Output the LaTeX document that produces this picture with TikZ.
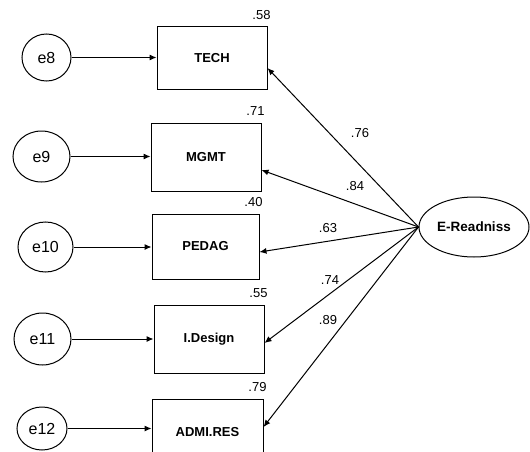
\documentclass[tikz,border=0pt]{standalone}
\usepackage{fontspec}
\setmainfont{Liberation Sans}
\usetikzlibrary{calc,arrows.meta,shapes.geometric}
\begin{document}
\begin{tikzpicture}[x=1pt,y=-1pt,
  obs/.style={draw,line width=1pt,inner sep=0pt,font=\fontsize{13}{13}\selectfont\bfseries},
  err/.style={draw,ellipse,line width=1pt,inner sep=0pt,font=\fontsize{16}{16}\selectfont},
  lat/.style={draw,ellipse,line width=1pt,inner sep=0pt,minimum width=110pt,minimum height=60pt,font=\fontsize{13.5}{13.5}\selectfont\bfseries},
  num/.style={inner sep=0pt,font=\fontsize{13}{13}\selectfont},
  arr/.style={line width=1pt,-{Latex[length=7pt,width=6pt]}}]
\useasboundingbox (0,0) rectangle (530,452);
\clip (0,0) rectangle (530,452);
% observed boxes
\node[obs,minimum width=110pt,minimum height=62pt] (tech) at (212,58) {TECH};
\node[obs,minimum width=110pt,minimum height=68pt] (mgmt) at (206,157) {MGMT};
\node[obs,minimum width=107pt,minimum height=65pt] (pedag) at (205.5,246.5) {PEDAG};
\node[obs,minimum width=110pt,minimum height=68pt] (ides) at (209,339) {I.Design};
\node[obs,minimum width=111pt,minimum height=66pt] (admi) at (207.5,432) {ADMI.RES};
% errors
\node[err,minimum width=49pt,minimum height=47pt] (e8) at (46.5,57.5) {e8};
\node[err,minimum width=57pt,minimum height=51pt] (e9) at (41.5,156.5) {e9};
\node[err,minimum width=55pt,minimum height=50pt] (e10) at (45.5,247) {e10};
\node[err,minimum width=57pt,minimum height=52pt] (e11) at (42.5,339) {e11};
\node[err,minimum width=50pt,minimum height=43pt] (e12) at (42,428.5) {e12};
% latent
\node[lat] (er) at (474,227) {E-Readniss};
% error arrows
\draw[arr] (e8.east) -- (e8.east -| tech.west);
\draw[arr] (e9.east) -- (e9.east -| mgmt.west);
\draw[arr] (e10.east) -- (e10.east -| pedag.west);
\draw[arr] (e11.east) -- (e11.east -| ides.west);
\draw[arr] (e12.east) -- (e12.east -| admi.west);
% loadings
\draw[arr] (er.west) -- ($(tech.east)+(0,10)$);
\draw[arr] (er.west) -- ($(mgmt.east)+(0,13)$);
\draw[arr] (er.west) -- ($(pedag.east)+(0,5.5)$);
\draw[arr] (er.west) -- ($(ides.east)+(0,4)$);
\draw[arr] (er.west) -- ($(admi.east)+(0,-5)$);
% R2 labels
\node[num] (r8) at ($(tech.north east)+(-6,-11)$) {.58};
\node[num] (r9) at ($(mgmt.north east)+(-6,-11)$) {.71};
\node[num] (r10) at ($(pedag.north east)+(-6,-11)$) {.40};
\node[num] (r11) at ($(ides.north east)+(-6,-11)$) {.55};
\node[num] (r12) at ($(admi.north east)+(-6,-11)$) {.79};
% loading labels
\node[num] (l1) at (360,133) {.76};
\node[num] (l2) at (355,186) {.84};
\node[num] (l3) at (328,228) {.63};
\node[num] (l4) at (330,280) {.74};
\node[num] (l5) at (328,320) {.89};
\end{tikzpicture}
\end{document}
